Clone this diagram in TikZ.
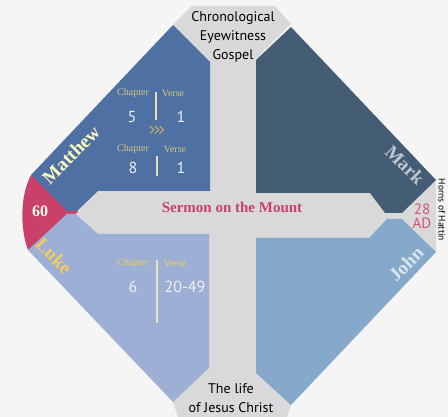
\documentclass[tikz,border=0pt]{standalone}
\usepackage{fontspec}
\setmainfont{Liberation Serif}
\newfontfamily\ptsans{PT Sans}
\newfontfamily\dejavu{DejaVu Sans}
\usepackage{tikz}
\usetikzlibrary{positioning}

\definecolor{bgGray}{HTML}{F5F5F5}
\definecolor{crossGray}{HTML}{D9D9D9}
\definecolor{mattBlue}{HTML}{4E70A3}
\definecolor{markSlate}{HTML}{445D74}
\definecolor{lukeBlue}{HTML}{9DAFD5}
\definecolor{johnBlue}{HTML}{86A9CB}
\definecolor{dateRed}{HTML}{C94069}
\definecolor{sermonRed}{HTML}{CC3F6B}
\definecolor{chapGold}{HTML}{DCC57F}
\definecolor{lukeGold}{HTML}{F2CD5A}
\definecolor{divCream}{HTML}{E9DDB5}

\begin{document}
\begin{tikzpicture}[x=1pt,y=-1pt,
        gospel/.style={font=\bfseries\fontsize{19}{19}\selectfont},
        caption/.style={font=\ptsans\fontsize{14}{19}\selectfont, align=center, text=black},
        chap/.style={font=\fontsize{10}{10}\selectfont, text=chapGold, inner sep=0pt},
        num/.style={font=\ptsans\fontsize{16}{16}\selectfont, text=white!94!black, inner sep=0pt},
        divider/.style={draw=divCream, line width=1.1pt}]
    \useasboundingbox (0,0) rectangle (448,417);
    \fill[bgGray] (0,0) rectangle (448,417);

    % gray cross behind the four gospels
    \fill[crossGray] (192,6) -- (275,6) -- (291,24) -- (256,59) -- (256,193) -- (370,193)
        -- (385,213) -- (402,213) -- (436,180) -- (436,252) -- (402,219) -- (387,219)
        -- (369,238) -- (256,238) -- (256,373) -- (291,405) -- (287,417) -- (178,417)
        -- (173,402) -- (209,368) -- (209,234) -- (98,234) -- (75,212) -- (98,191)
        -- (210,191) -- (210,62) -- (173,25) -- cycle;

    % red date wedge
    \fill[dateRed] (31,175) -- (78,212) -- (28,250) .. controls (20,228) and (20,196) .. (31,175) -- cycle;

    % quadrants
    \fill[mattBlue] (31,175) -- (173,25) -- (210,62) -- (210,191) -- (98,191) -- (77,211) -- (67,211) -- cycle;
    \fill[markSlate] (291,27) -- (436,180) -- (402,213) -- (385,213) -- (370,193) -- (256,193) -- (256,60) -- cycle;
    \fill[lukeBlue] (28,250) -- (67,214) -- (76,214) -- (98,234) -- (209,234) -- (209,368) -- (173,402) -- cycle;
    \fill[johnBlue] (256,238) -- (369,238) -- (387,219) -- (402,219) -- (436,252) -- (291,405) -- (256,373) -- cycle;

    % captions
    \node[caption] (topcap) at (233,37) {Chronological\\Eyewitness\\Gospel};
    \node[caption] (botcap) at (231,398) {The life\\of Jesus Christ};
    \node[font=\bfseries\fontsize{15}{15}\selectfont, text=sermonRed] (sermon) at (232,207) {Sermon on the Mount};
    \node[font=\ptsans\fontsize{15}{14}\selectfont, align=center, text=dateRed!90!white] (ad) at (422,216) {28\\AD};
    \node[font=\ptsans\fontsize{9.5}{10}\selectfont, rotate=-90, inner sep=0pt] (horns) at (442,210) {Horns of Hattin};
    \node[font=\bfseries\fontsize{16}{16}\selectfont, text=white!92!yellow] (sixty) at (40,211) {60};

    % gospel names
    \node[gospel, rotate=45, text=yellow!25!white] (matthew) at (71,155) {Matthew};
    \node[gospel, rotate=-45, text=markSlate!35!white] (mark) at (405,165) {Mark};
    \node[gospel, rotate=-45, text=lukeGold] (luke) at (54,256) {Luke};
    \node[gospel, rotate=45, text=johnBlue!30!white] (john) at (406,264) {John};

    % Matthew references
    \node[chap] (mchapA) at (133,93) {Chapter};
    \node[chap] (mverseA) at (173,93) {Verse};
    \node[num] (mnumA) at (132,117) {5};
    \node[num] (mvrsA) at (181,117) {1};
    \draw[divider] (156,92) -- (156,120);
    \node[font=\dejavu\fontsize{21}{21}\selectfont, text=chapGold!85!black, inner sep=0pt] (chev) at (157,131) {›\kern-3.5pt›\kern-3.5pt›};
    \node[chap] (mchapB) at (133,149) {Chapter};
    \node[chap] (mverseB) at (175,149) {Verse};
    \node[num] (mnumB) at (133,168) {8};
    \node[num] (mvrsB) at (181,168) {1};
    \draw[divider] (157,156) -- (157,176);

    % Luke references
    \node[chap, text=lukeGold] (lchap) at (133,263) {Chapter};
    \node[chap, text=lukeGold] (lverse) at (175,263) {Verse};
    \node[num] (lnum) at (133,287) {6};
    \node[num] (lvrs) at (185,287) {20-49};
    \draw[divider, draw=divCream!80!white] (157,260) -- (157,323);
\end{tikzpicture}
\end{document}
